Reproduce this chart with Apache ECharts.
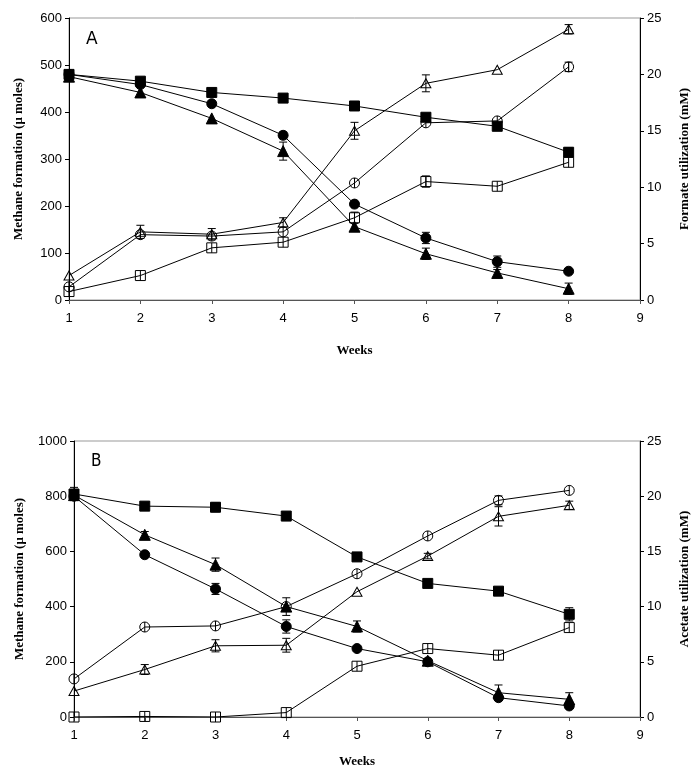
<!DOCTYPE html>
<html><head><meta charset="utf-8">
<script src="https://cdn.jsdelivr.net/npm/echarts@6/dist/echarts.min.js"></script>
<style>html,body{margin:0;padding:0;background:#fff}#c{width:700px;height:776px}</style>
</head><body><div id="c"></div>
<script>
// ---- Data ----
const weeks = [1, 2, 3, 4, 5, 6, 7, 8];
const xTicks = [1, 2, 3, 4, 5, 6, 7, 8, 9];

// Panel A: formate (mM, right axis) - filled symbols
const aFormateSquare   = [20.0, 19.4, 18.4, 17.9, 17.2, 16.2, 15.4, 13.1];
const aFormateCircle   = [20.0, 19.1, 17.4, 14.6, 8.5, 5.5, 3.4, 2.55];
const aFormateTriangle = [19.8, 18.4, 16.1, 13.2, 6.5, 4.1, 2.4, 1.0];
const aFormateSquareErr   = [0.3, 0, 0, 0, 0, 0, 0, 0.4];
const aFormateCircleErr   = [0, 0, 0, 0.3, 0, 0.5, 0.5, 0];
const aFormateTriangleErr = [0, 0, 0, 0.8, 0, 0.5, 0.3, 0.5];
// Panel A: methane (µmoles, left axis) - open symbols
const aMethaneSquare   = [18, 52, 111, 123, 175, 252, 242, 293];
const aMethaneCircle   = [28, 139, 136, 145, 249, 377, 381, 496];
const aMethaneTriangle = [52, 145, 140, 165, 360, 461, 490, 576];
const aMethaneSquareErr   = [0, 0, 0, 0, 12, 12, 0, 0];
const aMethaneCircleErr   = [0, 0, 0, 0, 0, 0, 0, 10];
const aMethaneTriangleErr = [0, 14, 12, 10, 18, 18, 0, 10];

// Panel B: acetate (mM, right axis) - filled symbols
const bAcetateSquare   = [20.2, 19.1, 19.0, 18.2, 14.5, 12.1, 11.4, 9.3];
const bAcetateTriangle = [20.1, 16.5, 13.8, 10.0, 8.2, 5.1, 2.2, 1.6];
const bAcetateCircle   = [20.0, 14.7, 11.6, 8.2, 6.2, 5.0, 1.75, 1.0];
const bAcetateSquareErr   = [0.6, 0, 0.4, 0.3, 0, 0, 0, 0.6];
const bAcetateTriangleErr = [0, 0.3, 0.6, 0.8, 0.5, 0, 0.7, 0.6];
const bAcetateCircleErr   = [0, 0, 0.5, 0.6, 0, 0, 0, 0];
// Panel B: methane (µmoles, left axis) - open symbols
const bMethaneCircle   = [138, 326, 330, 400, 519, 656, 785, 821];
const bMethaneTriangle = [94, 172, 258, 260, 454, 583, 727, 767];
const bMethaneSquare   = [0, 2, 0, 16, 184, 248, 224, 324];
const bMethaneCircleErr   = [0, 0, 0, 0, 0, 0, 16, 0];
const bMethaneTriangleErr = [0, 18, 22, 25, 0, 10, 35, 15];
const bMethaneSquareErr   = [0, 0, 0, 0, 0, 0, 0, 0];

// ---- Styles ----
const SYM = {
  fSquare: 'rect', fCircle: 'circle', fTriangle: 'triangle',
  oSquare: 'path://M0,0H10V10H0ZM5,0V10',
  oCircle: 'path://M5,0A5,5,0,1,1,5,10A5,5,0,1,1,5,0ZM5,0V10',
  oTriangle: 'path://M5,0L10,10H0Z'
};
const SIZE = {fSquare: 10, fCircle: 10, fTriangle: 11, oSquare: 10, oCircle: 10, oTriangle: [10, 9]};

function line(vals, sym, xi, yi) {
  const filled = sym[0] === 'f';
  return {
    type: 'line', xAxisIndex: xi, yAxisIndex: yi,
    data: weeks.map((w, i) => [w, vals[i]]),
    symbol: SYM[sym], symbolSize: SIZE[sym], symbolKeepAspect: true,
    showSymbol: true, silent: true, animation: false, z: 2,
    lineStyle: {color: '#000', width: 1},
    itemStyle: filled ? {color: '#000', borderColor: '#000', borderWidth: 1}
                      : {color: 'rgba(255,255,255,0)', borderColor: '#000', borderWidth: 1}
  };
}
function err(vals, errs, xi, yi) {
  const data = weeks.map((w, i) => [w, vals[i] - errs[i], vals[i] + errs[i], errs[i]]).filter(d => d[3] > 0);
  return {
    type: 'custom', xAxisIndex: xi, yAxisIndex: yi, silent: true, animation: false, z: 3,
    data: data, encode: {x: 0, y: [1, 2]},
    renderItem: function (params, api) {
      const lo = api.coord([api.value(0), api.value(1)]);
      const hi = api.coord([api.value(0), api.value(2)]);
      const hw = 4, st = {stroke: '#000', lineWidth: 1};
      return {type: 'group', children: [
        {type: 'line', shape: {x1: lo[0], y1: lo[1], x2: hi[0], y2: hi[1]}, style: st},
        {type: 'line', shape: {x1: lo[0] - hw, y1: lo[1], x2: lo[0] + hw, y2: lo[1]}, style: st},
        {type: 'line', shape: {x1: hi[0] - hw, y1: hi[1], x2: hi[0] + hw, y2: hi[1]}, style: st}
      ]};
    }
  };
}

const tickFont = {fontFamily: 'Liberation Sans, Arial, sans-serif', fontSize: 13, color: '#000'};
const titleFont = {fontFamily: 'Liberation Serif, Times New Roman, serif', fontSize: 13, fontWeight: 'bold', color: '#000'};

function xAxis(gi, gap) {
  return {
    type: 'value', gridIndex: gi, min: 1, max: 9, interval: 1,
    name: 'Weeks', nameLocation: 'middle', nameGap: gap, nameTextStyle: titleFont,
    axisLine: {show: true, lineStyle: {color: '#555', width: 1}},
    axisTick: {show: true, length: 4, lineStyle: {color: '#555'}},
    axisLabel: Object.assign({margin: 12, formatter: v => xTicks.includes(v) ? String(v) : ''}, tickFont),
    splitLine: {show: false}
  };
}
function yAxis(gi, pos, max, interval, name, gap) {
  return {
    type: 'value', gridIndex: gi, position: pos, min: 0, max: max, interval: interval,
    name: name, nameLocation: 'middle', nameGap: gap, nameRotate: 90, nameTextStyle: titleFont,
    axisLine: {show: true, lineStyle: {color: '#000', width: 1}},
    axisTick: {show: true, length: 4, lineStyle: {color: '#000'}},
    axisLabel: Object.assign({margin: 7, formatter: v => String(v)}, tickFont),
    splitLine: {show: false}
  };
}

const option = {
  backgroundColor: '#fff',
  animation: false,
  grid: [
    {left: 69, right: 60, top: 18, height: 282, show: true, borderColor: '#999', borderWidth: 1},
    {left: 74, right: 60, top: 441, height: 276, show: true, borderColor: '#999', borderWidth: 1}
  ],
  xAxis: [xAxis(0, 44), xAxis(1, 38)],
  yAxis: [
    yAxis(0, 'left', 600, 100, 'Methane formation (\u03bc moles)', 44),
    yAxis(0, 'right', 25, 5, 'Formate utilization (mM)', 38),
    yAxis(1, 'left', 1000, 200, 'Methane formation (\u03bc moles)', 48),
    yAxis(1, 'right', 25, 5, 'Acetate utilization (mM)', 38)
  ],
  graphic: [
    {type: 'text', left: 86, top: 31, style: {text: 'A', fontFamily: 'DejaVu Sans, sans-serif', fontSize: 17, fill: '#000'}},
    {type: 'text', left: 91, top: 453, style: {text: 'B', fontFamily: 'DejaVu Sans Condensed, sans-serif', fontSize: 17, fill: '#000'}}
  ],
  series: [
    line(aMethaneSquare, 'oSquare', 0, 0), err(aMethaneSquare, aMethaneSquareErr, 0, 0),
    line(aMethaneCircle, 'oCircle', 0, 0), err(aMethaneCircle, aMethaneCircleErr, 0, 0),
    line(aMethaneTriangle, 'oTriangle', 0, 0), err(aMethaneTriangle, aMethaneTriangleErr, 0, 0),
    line(aFormateSquare, 'fSquare', 0, 1), err(aFormateSquare, aFormateSquareErr, 0, 1),
    line(aFormateCircle, 'fCircle', 0, 1), err(aFormateCircle, aFormateCircleErr, 0, 1),
    line(aFormateTriangle, 'fTriangle', 0, 1), err(aFormateTriangle, aFormateTriangleErr, 0, 1),

    line(bMethaneSquare, 'oSquare', 1, 2), err(bMethaneSquare, bMethaneSquareErr, 1, 2),
    line(bMethaneCircle, 'oCircle', 1, 2), err(bMethaneCircle, bMethaneCircleErr, 1, 2),
    line(bMethaneTriangle, 'oTriangle', 1, 2), err(bMethaneTriangle, bMethaneTriangleErr, 1, 2),
    line(bAcetateSquare, 'fSquare', 1, 3), err(bAcetateSquare, bAcetateSquareErr, 1, 3),
    line(bAcetateTriangle, 'fTriangle', 1, 3), err(bAcetateTriangle, bAcetateTriangleErr, 1, 3),
    line(bAcetateCircle, 'fCircle', 1, 3), err(bAcetateCircle, bAcetateCircleErr, 1, 3)
  ]
};
const chart = echarts.init(document.getElementById('c'), null, {renderer: 'canvas'});
chart.setOption(option);
</script>
</body></html>
